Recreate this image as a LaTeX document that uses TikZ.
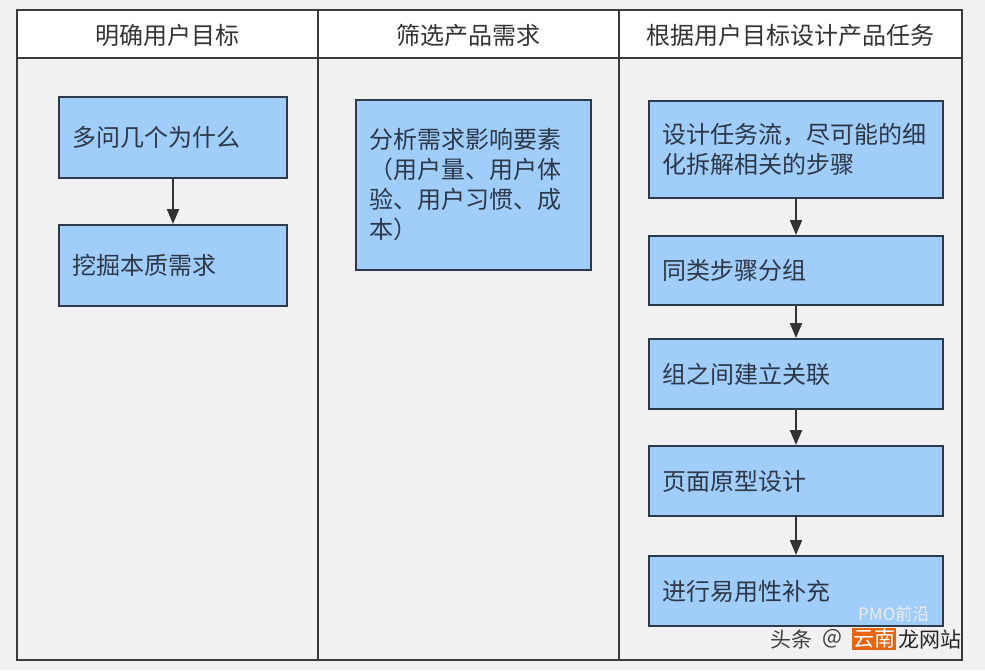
\documentclass[tikz,border=0pt]{standalone}
\usepackage{fontspec}
\setmainfont{Noto Sans CJK SC}
\usetikzlibrary{arrows.meta}
\definecolor{bg}{RGB}{241,241,241}
\definecolor{framec}{RGB}{58,58,58}
\definecolor{boxfill}{RGB}{161,205,250}
\definecolor{boxline}{RGB}{45,58,75}
\definecolor{txt}{RGB}{51,51,51}
\definecolor{boxtxt}{RGB}{44,56,72}
\definecolor{wmorange}{RGB}{232,101,15}
\begin{document}
\begin{tikzpicture}[x=1pt,y=-1pt,
  stepbox/.style={draw=boxline, line width=2pt, fill=boxfill, text=boxtxt,
    font=\fontsize{24}{30}\selectfont, align=left, inner xsep=13pt, inner ysep=0pt,
    anchor=north west},
  headtext/.style={text=txt, font=\fontsize{24}{30}\selectfont},
  flow/.style={draw=txt, line width=2pt, -{Triangle[width=12pt,length=15pt]}},
  framel/.style={draw=framec, line width=2.5pt},
  wmtext/.style={font=\fontsize{21}{24}\selectfont, anchor=west, inner sep=0pt}]
\useasboundingbox (0,0) rectangle (985,670);
\fill[bg] (0,0) rectangle (985,670);
% frame
\fill[white] (17,10) rectangle (962,58);
\draw[framel] (17,10) rectangle (962,660);
\draw[framel] (17,58) -- (962,58);
\draw[framel] (318,10) -- (318,660);
\draw[framel] (619,10) -- (619,660);
% headers
\node[headtext] (h1) at (167.5,35) {明确用户目标};
\node[headtext] (h2) at (468.5,35) {筛选产品需求};
\node[headtext] (h3) at (790.5,35) {根据用户目标设计产品任务};
% lane 1
\node[stepbox, text width=202pt, minimum height=81pt] (a1) at (58,96) {多问几个为什么};
\node[stepbox, text width=202pt, minimum height=81pt] (a2) at (58,224) {挖掘本质需求};
\draw[flow] (a1) -- (a2);
% lane 2
\node[stepbox, text width=209pt, minimum height=170pt] (b1) at (355,99)
  {分析需求影响要素\\（用户量、用户体\\验、用户习惯、成\\本）};
% lane 3
\node[stepbox, text width=268pt, minimum height=97pt] (c1) at (648,100)
  {设计任务流，尽可能的细\\化拆解相关的步骤};
\node[stepbox, text width=268pt, minimum height=69pt] (c2) at (648,235) {同类步骤分组};
\node[stepbox, text width=268pt, minimum height=70pt] (c3) at (648,338) {组之间建立关联};
\node[stepbox, text width=268pt, minimum height=70pt] (c4) at (648,445) {页面原型设计};
\node[stepbox, text width=268pt, minimum height=70pt] (c5) at (648,555) {进行易用性补充};
\draw[flow] (c1) -- (c2);
\draw[flow] (c2) -- (c3);
\draw[flow] (c3) -- (c4);
\draw[flow] (c4) -- (c5);
% watermark
\node[text=white!85!gray, font=\fontsize{17}{20}\selectfont, anchor=west, inner sep=0pt] (wm0) at (858,614) {PMO前沿};
\node[wmtext, text=black!75] (wm1) at (770,639) {头条};
\node[wmtext, text=black!75] (wm2) at (822,639) {@};
\node[wmtext, fill=wmorange, text=white, inner sep=1pt] (wm3) at (852,639) {云南};
\node[wmtext, text=black!85] (wm4) at (898,639) {龙网站};
\end{tikzpicture}
\end{document}
